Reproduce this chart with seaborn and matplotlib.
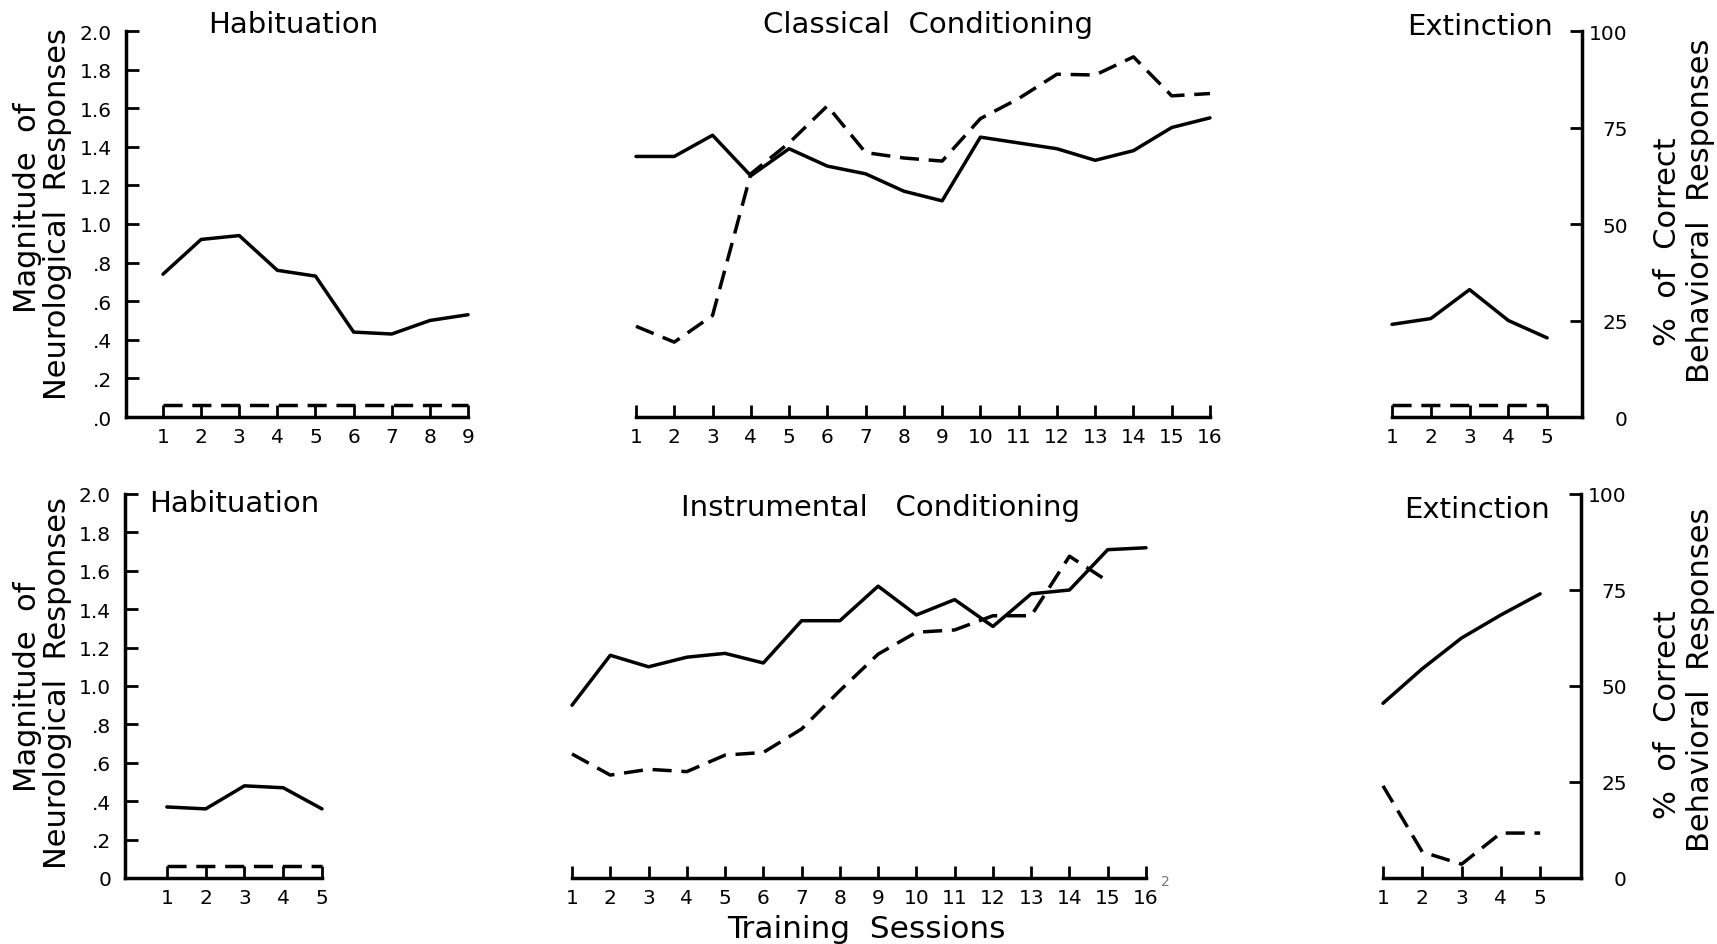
import matplotlib
matplotlib.use("Agg")
import matplotlib.pyplot as plt
import seaborn as sns
import numpy as np

# ---------------- data ----------------
hab1_sessions = [1, 2, 3, 4, 5, 6, 7, 8, 9]
hab1_neuro = [0.74, 0.92, 0.94, 0.76, 0.73, 0.44, 0.43, 0.50, 0.53]
hab1_behav = [3, 3, 3, 3, 3, 3, 3, 3, 3]

cc_sessions = [1, 2, 3, 4, 5, 6, 7, 8, 9, 10, 11, 12, 13, 14, 15, 16]
cc_neuro = [1.35, 1.35, 1.46, 1.25, 1.39, 1.30, 1.26, 1.17, 1.12, 1.45, 1.42, 1.39, 1.33, 1.38, 1.50, 1.55]
cc_behav = [23.5, 19.4, 26.3, 63.0, 71.0, 80.6, 68.5, 67.1, 66.3, 77.3, 82.5, 88.8, 88.6, 93.3, 83.2, 83.8]

ext1_sessions = [1, 2, 3, 4, 5]
ext1_neuro = [0.48, 0.51, 0.66, 0.50, 0.41]
ext1_behav = [3, 3, 3, 3, 3]

hab2_sessions = [1, 2, 3, 4, 5]
hab2_neuro = [0.37, 0.36, 0.48, 0.47, 0.36]
hab2_behav = [3, 3, 3, 3, 3]

ic_sessions = [1, 2, 3, 4, 5, 6, 7, 8, 9, 10, 11, 12, 13, 14, 15, 16]
ic_neuro = [0.90, 1.16, 1.10, 1.15, 1.17, 1.12, 1.34, 1.34, 1.52, 1.37, 1.45, 1.31, 1.48, 1.50, 1.71, 1.72]
ic_behav_sessions = [1, 2, 3, 4, 5, 6, 7, 8, 9, 10, 11, 12, 13, 14, 15]
ic_behav = [32.3, 26.8, 28.3, 27.7, 32.0, 32.7, 38.8, 48.8, 58.3, 64.0, 64.6, 68.3, 68.3, 83.8, 77.3]

ext2_sessions = [1, 2, 3, 4, 5]
ext2_neuro = [0.91, 1.09, 1.25, 1.37, 1.48]
ext2_behav = [24.0, 6.8, 3.6, 11.7, 11.7]

neuro_ticks = [0, 0.2, 0.4, 0.6, 0.8, 1.0, 1.2, 1.4, 1.6, 1.8, 2.0]
neuro_labels_top = [".0", ".2", ".4", ".6", ".8", "1.0", "1.2", "1.4", "1.6", "1.8", "2.0"]
neuro_labels_bot = ["0", ".2", ".4", ".6", ".8", "1.0", "1.2", "1.4", "1.6", "1.8", "2.0"]
behav_ticks = [0, 25, 50, 75, 100]
behav_labels = ["0", "25", "50", "75", "100"]

# ---------------- style ----------------
sns.set_style("ticks")
plt.rcParams["font.family"] = ["DejaVu Sans"]
plt.rcParams["text.color"] = "black"
plt.rcParams["xtick.color"] = "black"
plt.rcParams["ytick.color"] = "black"
plt.rcParams["axes.edgecolor"] = "black"

W, H = 1717, 945
fig = plt.figure(figsize=(W / 100, H / 100), dpi=100)
fig.patch.set_facecolor("white")

LW = 2.5
SPW = 2.5
DASH = (0, (5.5, 2.8))
TICKFS = 14.5


def px_axes(x0, x1, ytop, ybot):
    return fig.add_axes([x0 / W, 1 - ybot / H, (x1 - x0) / W, (ybot - ytop) / H])


def panel(rect, xlim, xs, neuro, bxs, behav, kind, ylabels=None):
    ax = px_axes(*rect)
    ax2 = ax.twinx()
    sns.lineplot(x=xs, y=neuro, ax=ax, color="black", lw=LW, errorbar=None)
    sns.lineplot(x=bxs, y=behav, ax=ax2, color="black", lw=LW,
                 linestyle=DASH, errorbar=None)
    for a in (ax, ax2):
        a.set_xlim(*xlim)
        a.set_xlabel("")
        a.set_ylabel("")
        for ln in a.get_lines():
            ln.set_clip_on(False)
    ax.set_ylim(0, 2.0)
    ax2.set_ylim(0, 100)
    ax.set_facecolor("none")
    for s in ("top", "right"):
        ax.spines[s].set_visible(False)
    for s in ("top", "left", "bottom"):
        ax2.spines[s].set_visible(False)
    ax.spines["bottom"].set_linewidth(SPW)
    ax.set_xticks(xs if len(xs) >= len(bxs) else bxs)
    ax.tick_params(axis="x", direction="in", length=9, width=2.0, pad=7,
                   labelsize=TICKFS, color="black", labelcolor="black")
    if kind == "left":
        ax.spines["left"].set_linewidth(SPW)
        ax.set_yticks(neuro_ticks)
        ax.set_yticklabels(ylabels)
        ax.tick_params(axis="y", direction="in", length=9, width=2.0, pad=10,
                       labelsize=TICKFS, labelcolor="black")
    else:
        ax.spines["left"].set_visible(False)
        ax.tick_params(axis="y", left=False, labelleft=False)
    if kind == "right":
        ax2.spines["right"].set_linewidth(SPW)
        ax2.set_yticks(behav_ticks)
        ax2.set_yticklabels(behav_labels, ha="right")
        ax2.tick_params(axis="y", direction="in", length=9, width=2.0, pad=33,
                        labelsize=TICKFS, right=True, labelright=True,
                        labelcolor="black")
    else:
        ax2.spines["right"].set_visible(False)
        ax2.tick_params(axis="y", right=False, labelright=False)
    return ax, ax2


# top row: y 32 (top) .. 418 (zero)
panel((126, 468, 32, 418), (0.03, 9), hab1_sessions, hab1_neuro,
      hab1_sessions, hab1_behav, "left", neuro_labels_top)
panel((636, 1210, 32, 418), (1, 16), cc_sessions, cc_neuro,
      cc_sessions, cc_behav, "mid")
panel((1392, 1582, 32, 418), (1, 5.9), ext1_sessions, ext1_neuro,
      ext1_sessions, ext1_behav, "right")

# bottom row: y 495 (top) .. 879 (zero)
panel((125, 322, 495, 879), (-0.08, 5), hab2_sessions, hab2_neuro,
      hab2_sessions, hab2_behav, "left", neuro_labels_bot)
panel((572, 1146, 495, 879), (1, 16), ic_sessions, ic_neuro,
      ic_behav_sessions, ic_behav, "mid")
panel((1383, 1581, 495, 879), (1, 6.04), ext2_sessions, ext2_neuro,
      ext2_sessions, ext2_behav, "right")


def ftext(x, y, s, size, rot=0, color="black"):
    fig.text(x / W, 1 - y / H, s, fontsize=size, rotation=rot,
             ha="center", va="center", color=color)


TFS = 21
ftext(293, 25, "Habituation", TFS)
ftext(928, 25, "Classical  Conditioning", TFS)
ftext(1480, 27, "Extinction", TFS)
ftext(234, 504, "Habituation", TFS)
ftext(880, 508, "Instrumental   Conditioning", TFS)
ftext(1477, 510, "Extinction", TFS)
ftext(866, 930, "Training  Sessions", 22.5)

LFS = 22
ftext(27, 208, "Magnitude  of", LFS, 90)
ftext(58, 214, "Neurological  Responses", LFS, 90)
ftext(27, 687, "Magnitude  of", LFS, 90)
ftext(58, 683, "Neurological  Responses", LFS, 90)
ftext(1667, 242, "%  of  Correct", LFS, 90)
ftext(1700, 211, "Behavioral  Responses", LFS, 90)
ftext(1667, 715, "%  of  Correct", LFS, 90)
ftext(1700, 680, "Behavioral  Responses", LFS, 90)

ftext(1165, 882, "2", 10, color="#777777")

fig.savefig("out.png", dpi=100, facecolor="white")
